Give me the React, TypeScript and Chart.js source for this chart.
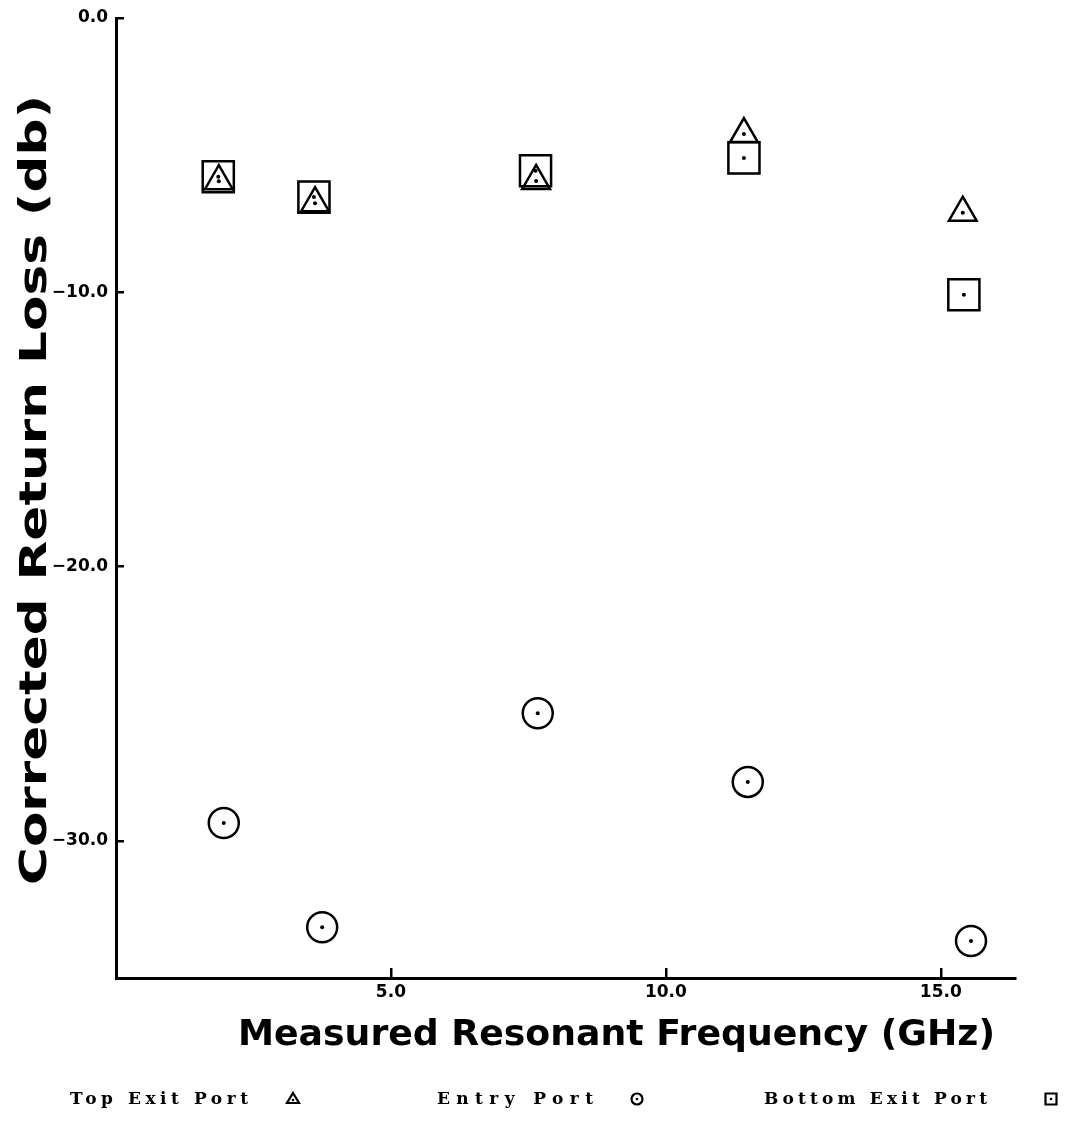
import { useEffect, useRef } from 'react';
import { Chart, registerables } from 'chart.js';

Chart.register(...registerables);

// Measured resonant frequency (GHz) and corrected return loss (dB) per port
const TOP_EXIT_FREQ = [1.87, 3.62, 7.64, 11.42, 15.4];
const TOP_EXIT_LOSS = [-5.95, -6.75, -5.94, -4.23, -7.1];
const ENTRY_FREQ = [1.96, 3.75, 7.67, 11.49, 15.55];
const ENTRY_LOSS = [-29.35, -33.15, -25.35, -27.85, -33.65];
const BOTTOM_EXIT_FREQ = [1.86, 3.6, 7.63, 11.42, 15.42];
const BOTTOM_EXIT_LOSS = [-5.79, -6.53, -5.57, -5.1, -10.09];

const X_TICKS = [5, 10, 15];
const Y_TICKS = [0, -10, -20, -30];
const X_TITLE = 'Measured Resonant Frequency (GHz)';
const Y_TITLE = 'Corrected Return Loss (db)';
const SERIES_NAMES = ['Top Exit Port', 'Entry Port', 'Bottom Exit Port'];

const W = 1083;
const H = 1125;
const INK = '#000';

const fmt = (v: number) => {
  const s = Math.abs(v).toFixed(1);
  return v < 0 ? '\u2212' + s : s;
};

// Write text so that it spans exactly the given width (extra letter spacing)
function spacedText(ctx: CanvasRenderingContext2D, text: string, font: string, width: number, x: number, y: number) {
  ctx.font = font;
  (ctx as any).letterSpacing = '0px';
  const w = ctx.measureText(text).width;
  const ls = (width - w) / (text.length - 1);
  (ctx as any).letterSpacing = `${ls}px`;
  ctx.fillText(text, x, y);
  (ctx as any).letterSpacing = '0px';
}

// Write text widened along its baseline so it spans the given width
function stretchedText(ctx: CanvasRenderingContext2D, text: string, font: string, width: number, x: number, y: number) {
  ctx.save();
  ctx.font = font;
  (ctx as any).letterSpacing = '0px';
  const w = ctx.measureText(text).width;
  ctx.translate(x, y);
  ctx.scale(width / w, 1);
  ctx.fillText(text, 0, 0);
  ctx.restore();
}

function legendSymbol(ctx: CanvasRenderingContext2D, kind: string, x: number, y: number) {
  ctx.save();
  ctx.strokeStyle = INK;
  ctx.fillStyle = INK;
  ctx.lineWidth = 2.2;
  ctx.beginPath();
  if (kind === 'triangle') {
    ctx.moveTo(x, y - 6);
    ctx.lineTo(x + 6, y + 4);
    ctx.lineTo(x - 6, y + 4);
    ctx.closePath();
  } else if (kind === 'circle') {
    ctx.arc(x, y, 5.5, 0, Math.PI * 2);
  } else {
    ctx.rect(x - 5.5, y - 5.5, 11, 11);
  }
  ctx.stroke();
  ctx.beginPath();
  ctx.arc(x, kind === 'triangle' ? y + 1 : y, 1.3, 0, Math.PI * 2);
  ctx.fill();
  ctx.restore();
}

const annotations = {
  id: 'annotations',
  afterDatasetsDraw(chart: Chart) {
    const ctx = chart.ctx;
    ctx.save();
    // centre dot in every marker
    ctx.fillStyle = INK;
    chart.data.datasets.forEach((_, i) => {
      chart.getDatasetMeta(i).data.forEach((el: any) => {
        ctx.beginPath();
        ctx.arc(el.x, el.y, 2, 0, Math.PI * 2);
        ctx.fill();
      });
    });
    ctx.restore();
  },
  afterDraw(chart: Chart) {
    const ctx = chart.ctx;
    ctx.save();
    ctx.fillStyle = INK;
    ctx.textBaseline = 'alphabetic';
    ctx.textAlign = 'left';
    // x axis title
    stretchedText(ctx, X_TITLE, "bold 35px 'DejaVu Sans'", 757, 238, 1045);
    // y axis title
    ctx.save();
    ctx.translate(46, 885);
    ctx.rotate(-Math.PI / 2);
    stretchedText(ctx, Y_TITLE, "bold 37px 'DejaVu Sans'", 790, 0, 0);
    ctx.restore();
    // legend row
    const legendFont = "bold 17px 'DejaVu Serif'";
    const entries = [
      { x: 70, w: 178, sym: 'triangle', sx: 293 },
      { x: 437, w: 156, sym: 'circle', sx: 637 },
      { x: 764, w: 223, sym: 'rect', sx: 1051 },
    ];
    entries.forEach((e, i) => {
      spacedText(ctx, SERIES_NAMES[i], legendFont, e.w, e.x, 1104);
      legendSymbol(ctx, e.sym, e.sx, 1099);
    });
    ctx.restore();
  },
};

export default function App() {
  const ref = useRef<HTMLCanvasElement>(null);

  useEffect(() => {
    document.body.style.margin = '0';
    if (!ref.current) return;
    const marker = (style: string, radius: number) => ({
      pointStyle: style,
      pointRadius: radius,
      pointHoverRadius: radius,
      pointBorderWidth: 2.5,
      pointBorderColor: INK,
      pointBackgroundColor: 'rgba(0,0,0,0)',
      borderColor: INK,
      backgroundColor: 'rgba(0,0,0,0)',
      showLine: false,
      clip: false as any,
    });
    const tickFont = { family: "'DejaVu Sans'", size: 17, weight: 'bold' as const };
    const chart = new Chart(ref.current, {
      type: 'scatter',
      data: {
        datasets: [
          {
            label: SERIES_NAMES[2],
            data: BOTTOM_EXIT_FREQ.map((x, i) => ({ x, y: BOTTOM_EXIT_LOSS[i] })),
            ...marker('rect', 22),
          },
          {
            label: SERIES_NAMES[0],
            data: TOP_EXIT_FREQ.map((x, i) => ({ x, y: TOP_EXIT_LOSS[i] })),
            ...marker('triangle', 16),
          },
          {
            label: SERIES_NAMES[1],
            data: ENTRY_FREQ.map((x, i) => ({ x, y: ENTRY_LOSS[i] })),
            ...marker('circle', 15),
          },
        ],
      },
      options: {
        responsive: false,
        animation: false,
        events: [],
        layout: { autoPadding: false, padding: { top: 18, right: 68, left: 0, bottom: 0 } },
        plugins: { legend: { display: false }, tooltip: { enabled: false } },
        scales: {
          x: {
            type: 'linear',
            min: 0,
            max: 16.35,
            afterBuildTicks: (s: any) => {
              s.ticks = X_TICKS.map((v) => ({ value: v }));
            },
            afterFit: (s: any) => {
              s.height = H - 978;
              s.paddingLeft = 0;
              s.paddingRight = 0;
            },
            border: { display: true, color: INK, width: 3 },
            grid: {
              drawOnChartArea: false,
              drawTicks: true,
              tickLength: -10,
              color: INK,
              lineWidth: 2.5,
            },
            ticks: {
              padding: 14,
              color: INK,
              font: tickFont,
              callback: (v: any) => fmt(Number(v)),
            },
          },
          y: {
            type: 'linear',
            min: -35,
            max: 0,
            afterBuildTicks: (s: any) => {
              s.ticks = Y_TICKS.map((v) => ({ value: v }));
            },
            afterFit: (s: any) => {
              s.width = 116;
              s.paddingTop = 0;
              s.paddingBottom = 0;
            },
            border: { display: true, color: INK, width: 3 },
            grid: {
              drawOnChartArea: false,
              drawTicks: true,
              tickLength: -8,
              color: INK,
              lineWidth: 2.5,
            },
            ticks: {
              padding: 16,
              color: INK,
              font: { ...tickFont, lineHeight: 0.2 },
              callback: (v: any) => fmt(Number(v)),
            },
          },
        },
      },
      plugins: [annotations],
    });
    return () => chart.destroy();
  }, []);

  return (
    <div style={{ width: W, height: H, background: '#fff' }}>
      <canvas ref={ref} width={W} height={H} style={{ display: 'block', width: W, height: H }} />
    </div>
  );
}
